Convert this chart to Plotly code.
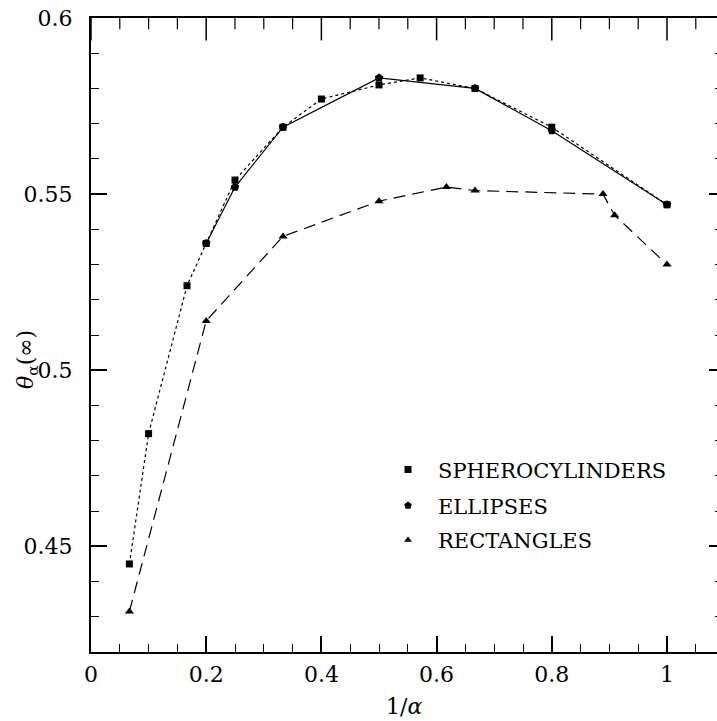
import plotly.graph_objects as go

# ---- data ----
sph_x = [1/15, 0.1, 1/6, 0.2, 0.25, 1/3, 0.4, 0.5, 4/7, 2/3, 0.8, 1.0]
sph_y = [0.445, 0.482, 0.524, 0.536, 0.554, 0.569, 0.577, 0.581, 0.583, 0.580, 0.569, 0.547]

ell_x = [0.2, 0.25, 1/3, 0.5, 2/3, 0.8, 1.0]
ell_y = [0.536, 0.552, 0.569, 0.583, 0.580, 0.568, 0.547]

rec_x = [1/15, 0.2, 1/3, 0.5, 0.617, 2/3, 8/9, 10/11, 1.0]
rec_y = [0.4315, 0.514, 0.538, 0.548, 0.552, 0.551, 0.550, 0.544, 0.530]

names = ["SPHEROCYLINDERS", "ELLIPSES", "RECTANGLES"]

x_ticks = [0, 0.2, 0.4, 0.6, 0.8, 1.0]
x_ticklabels = ["0", "0.2", "0.4", "0.6", "0.8", "1"]
x_minor = [0.05, 0.1, 0.15, 0.25, 0.3, 0.35, 0.45, 0.5, 0.55, 0.65, 0.7, 0.75,
           0.85, 0.9, 0.95, 1.05]
y_ticks = [0.45, 0.5, 0.55, 0.6]
y_ticklabels = ["0.45", "0.5", "0.55", "0.6"]
Y_RANGE = [0.42, 0.6]

FONT = "DejaVu Serif"
FS = 22
LFS = 21
fig = go.Figure()

fig.add_trace(go.Scatter(x=sph_x, y=sph_y, mode="lines+markers",
                         line=dict(color="black", width=1.2, dash="dot"),
                         marker=dict(symbol="square", size=7, color="black"),
                         showlegend=False))
fig.add_trace(go.Scatter(x=ell_x, y=ell_y, mode="lines+markers",
                         line=dict(color="black", width=1.2),
                         marker=dict(symbol="pentagon", size=9, color="black"),
                         showlegend=False))
fig.add_trace(go.Scatter(x=rec_x, y=rec_y, mode="lines+markers",
                         line=dict(color="black", width=1.2, dash="12px,7px"),
                         marker=dict(symbol="triangle-up", size=8, color="black"),
                         showlegend=False))

# top-edge inward ticks: vertical line markers on the top of the y range,
# clipped by the plot area so only the inner half shows
fig.add_trace(go.Scatter(x=x_ticks, y=[Y_RANGE[1]] * len(x_ticks), mode="markers",
                         marker=dict(symbol="line-ns", size=32,
                                     line=dict(width=1.5, color="black")),
                         cliponaxis=True, showlegend=False, hoverinfo="skip"))
fig.add_trace(go.Scatter(x=x_minor, y=[Y_RANGE[1]] * len(x_minor), mode="markers",
                         marker=dict(symbol="line-ns", size=16,
                                     line=dict(width=1.2, color="black")),
                         cliponaxis=True, showlegend=False, hoverinfo="skip"))

# legend-only marker entries, one legend each for exact row spacing
for nm, sym, sz, lg in zip(names, ["square", "pentagon", "triangle-up"], [7, 8, 7],
                           ["legend", "legend2", "legend3"]):
    fig.add_trace(go.Scatter(x=[None], y=[None], mode="markers", name=nm, legend=lg,
                             marker=dict(symbol=sym, size=sz, color="black")))

# invisible trace on the right tick axis
fig.add_trace(go.Scatter(x=[None], y=[None], xaxis="x", yaxis="y2", showlegend=False,
                         hoverinfo="skip"))

XMAX = 1.0868
CLEAR = "rgba(0,0,0,0)"
minor_x = dict(dtick=0.05, tick0=0, ticks="inside", ticklen=8,
               tickwidth=1.2, tickcolor="black")
minor_y = dict(dtick=0.01, tick0=0.42, ticks="inside", ticklen=8,
               tickwidth=1.2, tickcolor="black")
leg = dict(xanchor="left", yanchor="middle", bgcolor=CLEAR,
           font=dict(family=FONT, size=LFS), itemsizing="trace", itemwidth=50)
LX = 0.4585
fig.update_layout(
    width=717, height=721,
    margin=dict(l=91, r=0, t=18, b=69),
    paper_bgcolor="white", plot_bgcolor="white",
    font=dict(family=FONT, size=FS, color="black"),
    xaxis=dict(range=[0, XMAX], tickvals=x_ticks, ticktext=x_ticklabels,
               ticks="inside", ticklen=16, tickwidth=1.5, tickcolor="black",
               minor=minor_x, tickfont=dict(family=FONT, size=FS), ticklabelstandoff=2,
               showline=True, linecolor="black", linewidth=2, mirror=True,
               showgrid=False, zeroline=False),
    yaxis=dict(range=Y_RANGE, tickvals=y_ticks, ticktext=y_ticklabels,
               ticks="inside", ticklen=16, tickwidth=1.5, tickcolor="black",
               minor=minor_y, tickfont=dict(family=FONT, size=FS), ticklabelstandoff=12,
               showline=True, linecolor="black", linewidth=2, mirror=False,
               showgrid=False, zeroline=False),
    yaxis2=dict(range=Y_RANGE, overlaying="y", side="right", anchor="x",
                tickvals=y_ticks, showticklabels=False,
                ticks="inside", ticklen=8, tickwidth=1.5, tickcolor="black",
                minor=dict(dtick=0.01, tick0=0.42, ticks="inside", ticklen=2,
                           tickwidth=1.2, tickcolor="black"),
                showline=False, showgrid=False, zeroline=False),
    legend=dict(x=LX, y=0.2875, **leg),
    legend2=dict(x=LX, y=0.2307, **leg),
    legend3=dict(x=LX, y=0.1763, **leg),
    annotations=[
        dict(text="1/<i>α</i>", xref="paper", yref="paper", x=0.5, y=-0.0852,
             xanchor="center", yanchor="middle", showarrow=False,
             font=dict(family=FONT, size=FS)),
        dict(text="<i>θ</i><sub>α</sub>(∞)", xref="paper", yref="paper",
             x=-0.1006, y=0.4606, xanchor="center", yanchor="middle",
             textangle=-90, showarrow=False, font=dict(family=FONT, size=FS)),
    ],
)

fig.write_html("out.html")
